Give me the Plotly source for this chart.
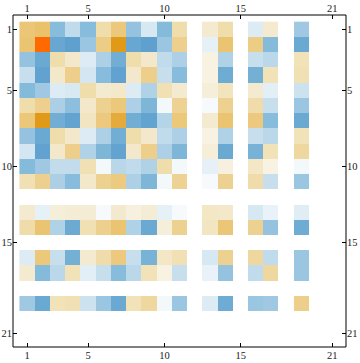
import plotly.graph_objects as go

N = None
rows = list(range(1, 22))
cols = list(range(1, 22))
tick_vals = [1, 5, 10, 15, 21]
tick_text = ["1", "5", "10", "15", "21"]

r1 = [0.45, 0.5, -0.5, -0.25, -0.5, 0.25, 0.42, -0.45, -0.15, -0.52, 0.25, N, 0.1, 0.25, N, -0.12, 0.1, N, -0.4, N, N]
r2 = [0.48, 1.0, -0.7, -0.78, -0.42, 0.38, 0.82, -0.7, -0.78, -0.42, 0.36, N, -0.08, 0.48, N, 0.38, -0.52, N, -0.68, N, N]
r3 = [-0.45, -0.68, 0.25, 0.12, -0.12, -0.33, -0.62, 0.25, 0.12, -0.25, -0.33, N, 0.06, -0.32, N, -0.22, -0.27, N, 0.2, N, N]
r4 = [-0.22, -0.75, 0.13, 0.37, -0.16, -0.5, -0.75, 0.12, 0.37, -0.22, -0.5, N, 0.06, -0.64, N, -0.6, 0.2, N, 0.22, N, N]
r5 = [-0.52, -0.4, -0.12, -0.14, 0.25, 0.1, 0.13, -0.12, -0.32, 0.22, 0.1, N, 0.08, 0.18, N, 0.1, -0.09, N, -0.2, N, N]
r6 = [0.25, 0.36, -0.34, -0.48, 0.13, 0.35, 0.43, -0.33, -0.55, -0.04, 0.34, N, -0.03, 0.35, N, 0.26, -0.22, N, -0.42, N, N]
r7 = [0.44, 0.82, -0.62, -0.74, 0.16, 0.41, 0.68, -0.62, -0.74, -0.3, 0.43, N, 0.1, 0.48, N, 0.41, -0.5, N, -0.68, N, N]
r8 = [-0.45, -0.68, 0.25, 0.12, -0.12, -0.33, -0.62, 0.25, 0.12, -0.25, -0.33, N, 0.06, -0.32, N, -0.22, -0.27, N, 0.2, N, N]
r9 = [-0.16, -0.75, 0.13, 0.37, -0.32, -0.55, -0.74, 0.12, 0.37, -0.33, -0.55, N, 0.08, -0.68, N, -0.58, 0.2, N, 0.3, N, N]
r10 = [-0.52, -0.4, -0.24, -0.24, 0.22, -0.04, -0.28, -0.25, -0.32, 0.25, -0.04, N, -0.08, 0.07, N, 0.14, 0.06, N, -0.04, N, N]
r11 = [0.22, 0.36, -0.34, -0.5, 0.13, 0.35, 0.4, -0.33, -0.55, -0.04, 0.34, N, -0.03, 0.35, N, 0.26, -0.22, N, -0.42, N, N]
r12 = [N] * 21
r13 = [0.1, -0.08, 0.08, 0.09, 0.09, -0.03, 0.11, 0.07, 0.09, -0.08, -0.03, N, 0.14, 0.13, N, -0.15, -0.07, N, -0.1, N, N]
r14 = [0.26, 0.48, -0.32, -0.66, 0.22, 0.36, 0.48, -0.32, -0.68, 0.08, 0.35, N, 0.16, 0.45, N, 0.35, -0.45, N, -0.64, N, N]
r15 = [N] * 21
r16 = [-0.12, 0.43, -0.22, -0.6, 0.1, 0.26, 0.41, -0.22, -0.58, 0.14, 0.22, N, -0.15, 0.35, N, 0.3, -0.25, N, -0.42, N, N]
r17 = [0.1, -0.52, -0.27, 0.2, -0.09, -0.22, -0.5, -0.27, 0.2, 0.06, -0.22, N, -0.07, -0.45, N, -0.25, 0.3, N, -0.42, N, N]
r18 = [N] * 21
r19 = [-0.4, -0.68, 0.2, 0.22, -0.2, -0.42, -0.68, 0.2, 0.3, -0.04, -0.42, N, -0.12, -0.64, N, -0.42, -0.4, N, 0.37, N, N]
r20 = [N] * 21
r21 = [N] * 21

z = [r1, r2, r3, r4, r5, r6, r7, r8, r9, r10, r11, r12, r13, r14, r15, r16, r17, r18, r19, r20, r21]

colorscale = [
    [0.0, "#4a90c8"],
    [0.125, "#62a2d0"],
    [0.2, "#74b0d4"],
    [0.25, "#88bcdc"],
    [0.3, "#a0c8e2"],
    [0.35, "#b4d4e8"],
    [0.4, "#cce2ee"],
    [0.45, "#e0edf5"],
    [0.5, "#ffffff"],
    [0.55, "#f3ead0"],
    [0.6, "#f2e2b8"],
    [0.65, "#eed8a0"],
    [0.7, "#ecca80"],
    [0.75, "#eac26c"],
    [0.84, "#e4aa3c"],
    [0.91, "#e09a18"],
    [1.0, "#ff6a00"],
]

fig = go.Figure()
fig.add_trace(go.Heatmap(z=z, x=cols, y=rows, colorscale=colorscale, zmin=-1, zmax=1,
                         showscale=False, hoverongaps=False))
fig.add_trace(go.Scatter(x=[], y=[], xaxis="x2", yaxis="y2", showlegend=False))

tickfont = dict(family="Liberation Serif", size=10.5, color="#1a1a1a")
xr = [0.08, 21.9]
yr = [21.88, 0.06]
common = dict(tickvals=tick_vals, ticktext=tick_text, ticks="inside", ticklen=4,
              tickcolor="black", tickwidth=1, showgrid=False, zeroline=False,
              showline=False, tickfont=tickfont, fixedrange=True, automargin=False)

fig.update_layout(
    width=360, height=363,
    margin=dict(l=13, r=14, t=15, b=16, autoexpand=False),
    paper_bgcolor="white", plot_bgcolor="white",
    xaxis=dict(range=xr, side="bottom", **common),
    yaxis=dict(range=yr, side="left", **common),
    xaxis2=dict(range=xr, side="top", overlaying="x", **common),
    yaxis2=dict(range=yr, side="right", overlaying="y", **common),
    shapes=[dict(type="rect", xref="paper", yref="paper", x0=0, x1=1, y0=0, y1=1,
                 line=dict(color="black", width=1), layer="above")],
    showlegend=False,
)

fig.write_html("out.html", config={"displayModeBar": False},
               post_script="document.body.style.margin='0px';")
